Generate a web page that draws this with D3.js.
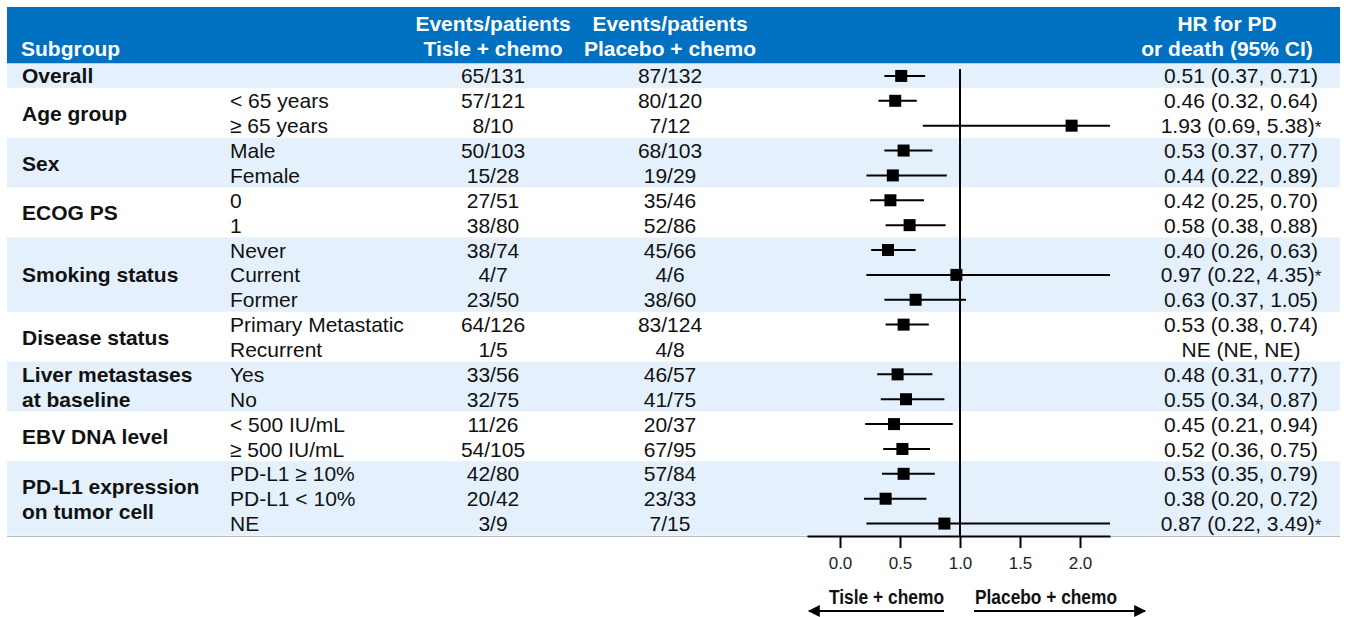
<!DOCTYPE html>
<html>
<head>
<meta charset="utf-8">
<script src="https://cdn.jsdelivr.net/npm/d3@7"></script>
<style>
  html, body { margin: 0; padding: 0; background: #fff; }
  svg { display: block; font-family: "Liberation Sans", Arial, sans-serif; }
</style>
</head>
<body>
<svg id="chart" width="1348" height="617"></svg>
<script>
// Subgroup blocks (label lines, number of rows in the block)
const groupNames = [["Overall"], ["Age group"], ["Sex"], ["ECOG PS"], ["Smoking status"],
  ["Disease status"], ["Liver metastases", "at baseline"], ["EBV DNA level"],
  ["PD-L1 expression", "on tumor cell"]];
const groupSizes = [1, 2, 2, 2, 3, 2, 2, 2, 3];

// One entry per row
const subLabels = ["", "< 65 years", "≥ 65 years", "Male", "Female", "0", "1", "Never", "Current",
  "Former", "Primary Metastatic", "Recurrent", "Yes", "No", "< 500 IU/mL", "≥ 500 IU/mL",
  "PD-L1 ≥ 10%", "PD-L1 < 10%", "NE"];
const tisleEvents = ["65/131", "57/121", "8/10", "50/103", "15/28", "27/51", "38/80", "38/74", "4/7",
  "23/50", "64/126", "1/5", "33/56", "32/75", "11/26", "54/105", "42/80", "20/42", "3/9"];
const placeboEvents = ["87/132", "80/120", "7/12", "68/103", "19/29", "35/46", "52/86", "45/66", "4/6",
  "38/60", "83/124", "4/8", "46/57", "41/75", "20/37", "67/95", "57/84", "23/33", "7/15"];
const hr = [0.51, 0.46, 1.93, 0.53, 0.44, 0.42, 0.58, 0.40, 0.97, 0.63, 0.53, null, 0.48, 0.55, 0.45, 0.52, 0.53, 0.38, 0.87];
const hrLow = [0.37, 0.32, 0.69, 0.37, 0.22, 0.25, 0.38, 0.26, 0.22, 0.37, 0.38, null, 0.31, 0.34, 0.21, 0.36, 0.35, 0.20, 0.22];
const hrHigh = [0.71, 0.64, 5.38, 0.77, 0.89, 0.70, 0.88, 0.63, 4.35, 1.05, 0.74, null, 0.77, 0.87, 0.94, 0.75, 0.79, 0.72, 3.49];
const starred = [false, false, true, false, false, false, false, false, true, false, false, false, false, false, false, false, false, false, true];

const axisTicks = [0, 0.5, 1.0, 1.5, 2.0];
const axisDomain = [-0.275, 2.25];

const svg = d3.select("#chart");
const left = 7, right = 1340;
const headerTop = 7, tableTop = 63.5, tableBottom = 536;
const nRows = subLabels.length;
const fs = 21;

const y = d3.scaleBand().domain(d3.range(nRows)).range([tableTop, tableBottom]).padding(0);
const x = d3.scaleLinear().domain(axisDomain).range([807, 1110]);
const clamp = v => Math.max(axisDomain[0], Math.min(axisDomain[1], v));

// Header band
svg.append("rect").attr("x", left).attr("y", headerTop)
  .attr("width", right - left).attr("height", tableTop - headerTop).attr("fill", "#0070C0");

const head = svg.append("g").attr("fill", "#fff").attr("font-weight", "bold").attr("font-size", fs);
head.append("text").attr("x", 21).attr("y", 56).text("Subgroup");
const headCols = [
  { cx: 493, lines: ["Events/patients", "Tisle + chemo"] },
  { cx: 670, lines: ["Events/patients", "Placebo + chemo"] },
  { cx: 1227, lines: ["HR for PD", "or death (95% CI)"] }
];
headCols.forEach(c => {
  c.lines.forEach((t, i) => {
    head.append("text").attr("x", c.cx).attr("y", 31 + i * 25)
      .attr("text-anchor", "middle").text(t);
  });
});

// Group bands
let start = 0;
const groups = groupSizes.map((n, gi) => {
  const g = { names: groupNames[gi], start, n, shaded: gi % 2 === 0 };
  start += n;
  return g;
});

const bands = svg.append("g");
groups.forEach(g => {
  const y0 = y(g.start), y1 = y(g.start + g.n - 1) + y.bandwidth();
  bands.append("rect").attr("x", left).attr("y", y0).attr("width", right - left)
    .attr("height", y1 - y0).attr("fill", g.shaded ? "#E4F1FC" : "#fff");
  bands.append("line").attr("x1", left).attr("x2", right).attr("y1", y1).attr("y2", y1)
    .attr("stroke", "#F4F9FE").attr("stroke-width", 1);
});
// bottom rule of the table
svg.append("line").attr("x1", left).attr("x2", right).attr("y1", tableBottom + 0.5).attr("y2", tableBottom + 0.5)
  .attr("stroke", "#B8BCC0").attr("stroke-width", 1);

// Group labels
const gl = svg.append("g").attr("font-weight", "bold").attr("font-size", fs).attr("fill", "#111");
groups.forEach(g => {
  const y0 = y(g.start), y1 = y(g.start + g.n - 1) + y.bandwidth();
  const mid = (y0 + y1) / 2;
  const k = g.names.length;
  g.names.forEach((t, i) => {
    gl.append("text").attr("x", 22)
      .attr("y", mid + (i - (k - 1) / 2) * y.bandwidth())
      .attr("dy", "0.36em").text(t);
  });
});

// Row text
const rt = svg.append("g").attr("font-size", fs).attr("fill", "#111");
d3.range(nRows).forEach(i => {
  const cy = y(i) + y.bandwidth() / 2;
  rt.append("text").attr("x", 230).attr("y", cy).attr("dy", "0.36em").text(subLabels[i]);
  rt.append("text").attr("x", 493).attr("y", cy).attr("dy", "0.36em").attr("text-anchor", "middle").text(tisleEvents[i]);
  rt.append("text").attr("x", 670).attr("y", cy).attr("dy", "0.36em").attr("text-anchor", "middle").text(placeboEvents[i]);
  const t = rt.append("text").attr("x", 1241).attr("y", cy).attr("dy", "0.36em").attr("text-anchor", "middle");
  if (hr[i] == null) {
    t.text("NE (NE, NE)");
  } else {
    t.append("tspan").text(`${hr[i].toFixed(2)} (${hrLow[i].toFixed(2)}, ${hrHigh[i].toFixed(2)})`);
    if (starred[i]) t.append("tspan").attr("font-size", 17).text("*");
  }
});

// Reference line at HR = 1
svg.append("line").attr("x1", x(1)).attr("x2", x(1)).attr("y1", 69).attr("y2", tableBottom)
  .attr("stroke", "#000").attr("stroke-width", 2);

// Confidence intervals and point estimates
const marks = svg.append("g");
d3.range(nRows).filter(i => hr[i] != null).forEach(i => {
  const cy = y(i) + y.bandwidth() / 2;
  marks.append("line").attr("x1", x(clamp(hrLow[i]))).attr("x2", x(clamp(hrHigh[i])))
    .attr("y1", cy).attr("y2", cy).attr("stroke", "#000").attr("stroke-width", 2);
  const s = 12;
  marks.append("rect").attr("x", x(hr[i]) - s / 2).attr("y", cy - s / 2)
    .attr("width", s).attr("height", s).attr("fill", "#000");
});

// Axis
const axis = d3.axisBottom(x).tickValues(axisTicks).tickFormat(d3.format(".1f"))
  .tickSizeInner(12).tickSizeOuter(0).tickPadding(9);
const ax = svg.append("g").attr("transform", `translate(0,${tableBottom})`).call(axis);
ax.select(".domain").attr("stroke", "#000").attr("stroke-width", 2);
ax.selectAll(".tick line").attr("stroke", "#000").attr("stroke-width", 2);
ax.selectAll(".tick text").attr("font-size", 17).attr("fill", "#222")
  .attr("font-family", "Liberation Sans, Arial, sans-serif");

// Direction arrows
const defs = svg.append("defs");
defs.append("marker").attr("id", "arrow").attr("viewBox", "0 0 10 10").attr("refX", 9).attr("refY", 5)
  .attr("markerWidth", 14).attr("markerHeight", 12).attr("markerUnits", "userSpaceOnUse")
  .attr("orient", "auto-start-reverse")
  .append("path").attr("d", "M0,0 L10,5 L0,10 Z").attr("fill", "#000");

const arrowY = 611;
svg.append("line").attr("x1", 944).attr("x2", 809).attr("y1", arrowY).attr("y2", arrowY)
  .attr("stroke", "#000").attr("stroke-width", 2).attr("marker-end", "url(#arrow)");
svg.append("line").attr("x1", 974).attr("x2", 1145).attr("y1", arrowY).attr("y2", arrowY)
  .attr("stroke", "#000").attr("stroke-width", 2).attr("marker-end", "url(#arrow)");

const lab = svg.append("g").attr("font-weight", "bold").attr("font-size", 20).attr("fill", "#111");
lab.append("text").attr("x", 944).attr("y", 604).attr("text-anchor", "end")
  .attr("textLength", 115).attr("lengthAdjust", "spacingAndGlyphs").text("Tisle + chemo");
lab.append("text").attr("x", 975).attr("y", 604)
  .attr("textLength", 142).attr("lengthAdjust", "spacingAndGlyphs").text("Placebo + chemo");
</script>
</body>
</html>
